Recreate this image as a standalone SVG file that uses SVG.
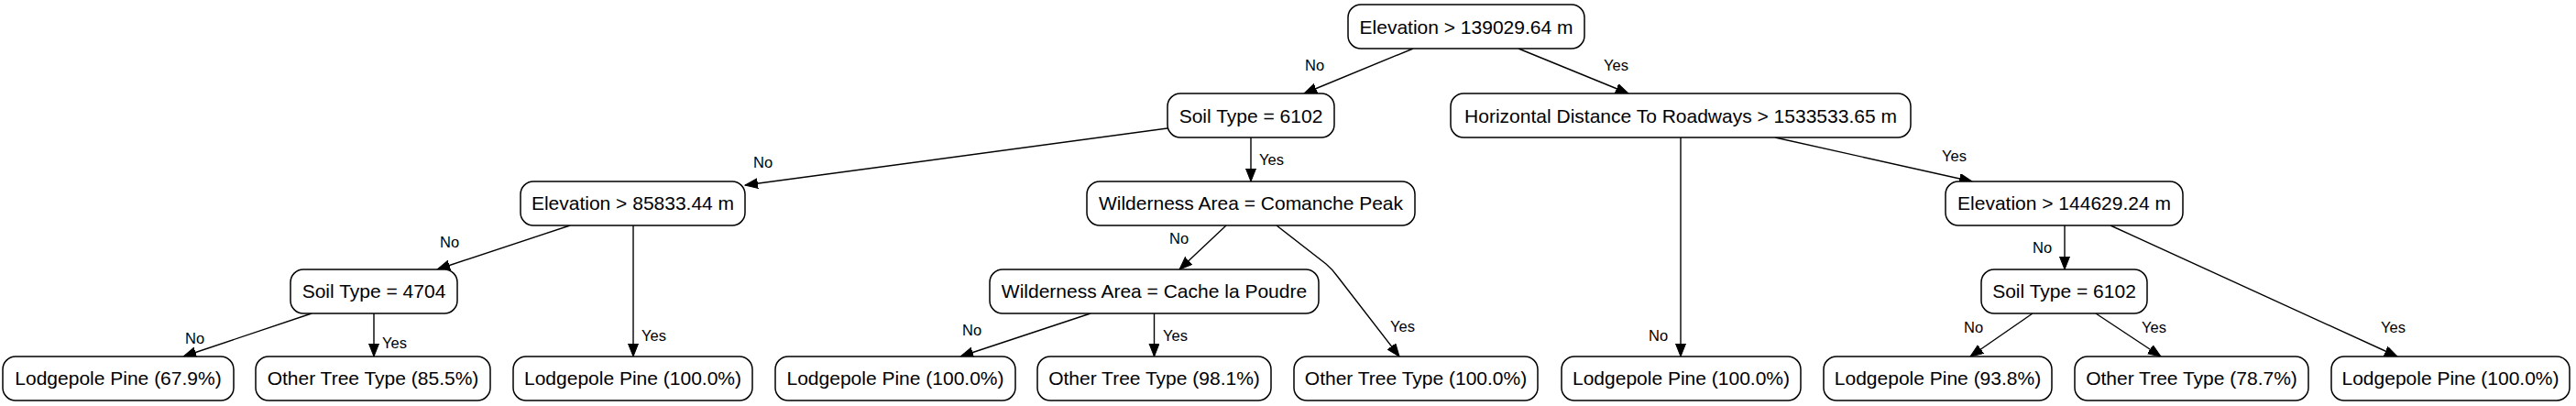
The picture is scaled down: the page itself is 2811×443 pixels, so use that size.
<svg xmlns="http://www.w3.org/2000/svg" width="2811" height="443" viewBox="0 0 2811 443">
<defs>
<marker id="arr" markerUnits="userSpaceOnUse" markerWidth="15" markerHeight="12" refX="14" refY="5.5" orient="auto">
<path d="M0,0 L14,5.5 L0,11 z" fill="#000" stroke="#000" stroke-width="1"/>
</marker>
</defs>
<style>
.node rect{fill:#fff;stroke:#000;stroke-width:1.5}
.node text{font-family:"Liberation Sans",Arial,Helvetica,sans-serif;font-size:21px;text-anchor:middle;fill:#000}
.edges path{fill:none;stroke:#000;stroke-width:1.4;marker-end:url(#arr)}
.edges text{font-family:"Liberation Sans",Arial,Helvetica,sans-serif;font-size:16.5px;fill:#000}
</style>
<rect width="2811" height="443" fill="#fff"/>
<g class="edges" id="edges">
<path d="M1542,53 L1423,102"/><text x="1424" y="77">No</text>
<path d="M1657,53 L1777,102"/><text x="1750" y="77">Yes</text>
<path d="M1274,140 L813,202"/><text x="822" y="183">No</text>
<path d="M1365,150 L1365,198"/><text x="1374" y="180">Yes</text>
<path d="M1834,150 L1834,389"/><text x="1799" y="372">No</text>
<path d="M1937,150 L2152,198"/><text x="2119" y="176">Yes</text>
<path d="M622,246 L477,294"/><text x="480" y="270">No</text>
<path d="M691,246 L691,389"/><text x="700" y="372">Yes</text>
<path d="M1338,246 L1287,294"/><text x="1276" y="266">No</text>
<path d="M1393,246 L1447,288 Q1454,294 1459,301 L1527,389"/><text x="1517" y="362">Yes</text>
<path d="M2253,246 L2253,294"/><text x="2218" y="276">No</text>
<path d="M2303,246 L2616,389"/><text x="2598" y="363">Yes</text>
<path d="M340,342 L200,389"/><text x="202" y="375">No</text>
<path d="M408,342 L408,389"/><text x="417" y="380">Yes</text>
<path d="M1190,342 L1048,389"/><text x="1050" y="366">No</text>
<path d="M1259.5,342 L1259.5,389"/><text x="1269" y="372">Yes</text>
<path d="M2218,342 L2150,389"/><text x="2143" y="363">No</text>
<path d="M2287,342 L2358,389"/><text x="2337" y="363">Yes</text>
</g>
<g class="node" id="n0"><rect x="1471" y="5" width="258" height="48" rx="14"/><text x="1600" y="36.5">Elevation &gt; 139029.64 m</text></g>
<g class="node" id="n1"><rect x="1274" y="102" width="182" height="48" rx="14"/><text x="1365" y="133.5">Soil Type = 6102</text></g>
<g class="node" id="n2"><rect x="1583" y="102" width="502" height="48" rx="14"/><text x="1834" y="133.5">Horizontal Distance To Roadways &gt; 1533533.65 m</text></g>
<g class="node" id="n3"><rect x="568" y="198" width="245" height="48" rx="14"/><text x="690.5" y="229">Elevation &gt; 85833.44 m</text></g>
<g class="node" id="n4"><rect x="1186" y="198" width="358" height="48" rx="14"/><text x="1365" y="229">Wilderness Area = Comanche Peak</text></g>
<g class="node" id="n5"><rect x="2123" y="198" width="259" height="48" rx="14"/><text x="2252.5" y="229">Elevation &gt; 144629.24 m</text></g>
<g class="node" id="n6"><rect x="317" y="294" width="182" height="48" rx="14"/><text x="408" y="325">Soil Type = 4704</text></g>
<g class="node" id="n7"><rect x="1080" y="294" width="359" height="48" rx="14"/><text x="1259.5" y="325">Wilderness Area = Cache la Poudre</text></g>
<g class="node" id="n8"><rect x="2162" y="294" width="181" height="48" rx="14"/><text x="2252.5" y="325">Soil Type = 6102</text></g>
<g class="node" id="l1"><rect x="3" y="389" width="252" height="48" rx="14"/><text x="129" y="420">Lodgepole Pine (67.9%)</text></g>
<g class="node" id="l2"><rect x="279" y="389" width="256" height="48" rx="14"/><text x="407" y="420">Other Tree Type (85.5%)</text></g>
<g class="node" id="l3"><rect x="560" y="389" width="261" height="48" rx="14"/><text x="690.5" y="420">Lodgepole Pine (100.0%)</text></g>
<g class="node" id="l4"><rect x="846" y="389" width="262" height="48" rx="14"/><text x="977" y="420">Lodgepole Pine (100.0%)</text></g>
<g class="node" id="l5"><rect x="1132" y="389" width="255" height="48" rx="14"/><text x="1259.5" y="420">Other Tree Type (98.1%)</text></g>
<g class="node" id="l6"><rect x="1412" y="389" width="266" height="48" rx="14"/><text x="1545" y="420">Other Tree Type (100.0%)</text></g>
<g class="node" id="l7"><rect x="1704" y="389" width="261" height="48" rx="14"/><text x="1834.5" y="420">Lodgepole Pine (100.0%)</text></g>
<g class="node" id="l8"><rect x="1990" y="389" width="249" height="48" rx="14"/><text x="2114.5" y="420">Lodgepole Pine (93.8%)</text></g>
<g class="node" id="l9"><rect x="2264" y="389" width="255" height="48" rx="14"/><text x="2391.5" y="420">Other Tree Type (78.7%)</text></g>
<g class="node" id="l10"><rect x="2544" y="389" width="260" height="48" rx="14"/><text x="2674" y="420">Lodgepole Pine (100.0%)</text></g>
</svg>
